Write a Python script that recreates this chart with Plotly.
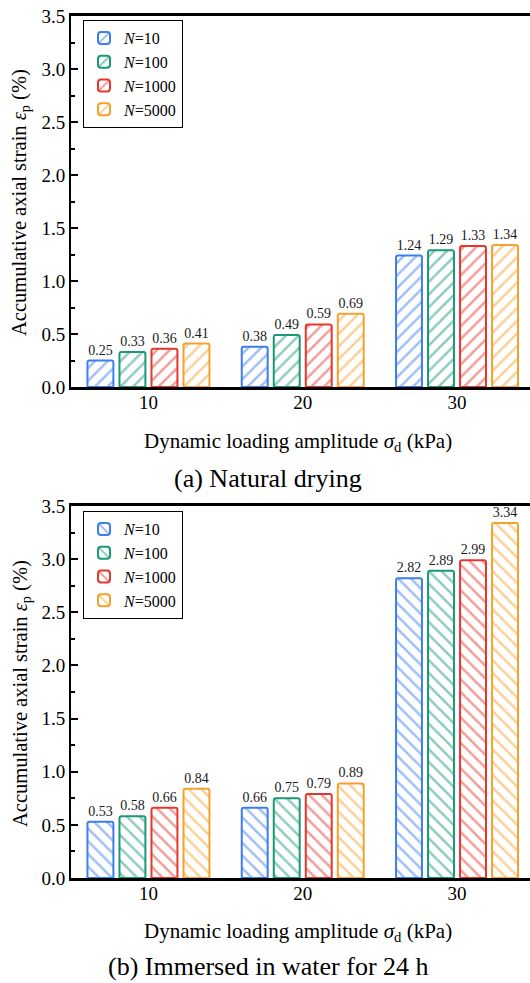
import plotly.graph_objects as go

# ---------------- data ----------------
categories = ["10", "20", "30"]
series_labels = ["<i>N</i>=10", "<i>N</i>=100", "<i>N</i>=1000", "<i>N</i>=5000"]

dry_n10 = [0.25, 0.38, 1.24]
dry_n100 = [0.33, 0.49, 1.29]
dry_n1000 = [0.36, 0.59, 1.33]
dry_n5000 = [0.41, 0.69, 1.34]

wet_n10 = [0.53, 0.66, 2.82]
wet_n100 = [0.58, 0.75, 2.89]
wet_n1000 = [0.66, 0.79, 2.99]
wet_n5000 = [0.84, 0.89, 3.34]

y_ticks = [0.0, 0.5, 1.0, 1.5, 2.0, 2.5, 3.0, 3.5]

colors = ["#3D7EEE", "#1B9877", "#E6372F", "#F5A12E"]
FONT = "Liberation Serif, Times New Roman, serif"

W, H = 530, 983

def px_x(p):
    return p / W

def px_y(p):
    return 1 - p / H

fig = go.Figure()

dry_sets = [dry_n10, dry_n100, dry_n1000, dry_n5000]
wet_sets = [wet_n10, wet_n100, wet_n1000, wet_n5000]

def add_series(sets, shape, xa, ya, leg):
    for i, vals in enumerate(sets):
        fig.add_trace(go.Bar(
            x=categories, y=vals, name=series_labels[i],
            xaxis=xa, yaxis=ya, legend=leg,
            marker=dict(color="white", cornerradius=2,
                        line=dict(color=colors[i], width=2),
                        pattern=dict(shape=shape, fgcolor=colors[i], bgcolor="white",
                                     size=9, solidity=0.28)),
            texttemplate="%{y:.2f}", textposition="outside",
            textfont=dict(family=FONT, size=14, color="#1a1a1a"),
            constraintext="none", cliponaxis=False,
        ))

add_series(dry_sets, "/", "x", "y", "legend")
add_series(wet_sets, "\\", "x2", "y2", "legend2")

x_range = [-0.502, 2.473]

def xaxis_cfg(anchor):
    return dict(
        type="category", domain=[px_x(71), 1.0], range=x_range, anchor=anchor,
        showline=True, linecolor="black", linewidth=2.5, mirror=True,
        ticks="", showgrid=False, zeroline=False, ticklabelstandoff=-4,
        automargin=False,
        tickfont=dict(family=FONT, size=19, color="black"),
    )

def yaxis_cfg(anchor, dom):
    return dict(
        domain=dom, range=[0, 3.5], anchor=anchor, automargin=False,
        tickvals=y_ticks, ticktext=[f"{v:.1f}" for v in y_ticks],
        showline=True, linecolor="black", linewidth=2, mirror=False,
        ticks="inside", ticklen=7, tickwidth=1.5, tickcolor="black",
        minor=dict(ticks="inside", ticklen=4, tickwidth=1.5, dtick=0.25,
                   tickcolor="black", showgrid=False),
        showgrid=False, zeroline=False,
        tickfont=dict(family=FONT, size=19, color="black"),
    )

legend_common = dict(
    xanchor="left", yanchor="top",
    bgcolor="white", bordercolor="black", borderwidth=1,
    font=dict(family=FONT, size=16, color="black"),
    itemwidth=30, tracegroupgap=0,
)

fig.update_layout(
    width=W, height=H,
    margin=dict(l=0, r=0, t=0, b=0, pad=0, autoexpand=False),
    paper_bgcolor="white", plot_bgcolor="white",
    barmode="group", bargap=0.17, bargroupgap=0.19,
    font=dict(family=FONT, color="black"),
    xaxis=xaxis_cfg("y"),
    yaxis=yaxis_cfg("x", [px_y(387), px_y(16)]),
    xaxis2=xaxis_cfg("y2"),
    yaxis2=yaxis_cfg("x2", [px_y(878), px_y(506)]),
    legend=dict(x=px_x(83), y=px_y(20), **legend_common),
    legend2=dict(x=px_x(83), y=px_y(511), **legend_common),
    showlegend=True,
)

ytitle = "Accumulative axial strain <i>ε</i><sub>p</sub> (%)"
xtitle = "Dynamic loading amplitude <i>σ</i><sub>d</sub> (kPa)"

annos = [
    dict(text=ytitle, x=px_x(21), y=px_y(203), textangle=-90, size=20.5),
    dict(text=ytitle, x=px_x(21), y=px_y(694), textangle=-90, size=20.5),
    dict(text=xtitle, x=px_x(298), y=px_y(442), textangle=0, size=21),
    dict(text=xtitle, x=px_x(298), y=px_y(932), textangle=0, size=21),
    dict(text="(a) Natural drying", x=px_x(268), y=px_y(478), textangle=0, size=26),
    dict(text="(b) Immersed in water for 24 h", x=px_x(268), y=px_y(966), textangle=0, size=26),
]
for a in annos:
    fig.add_annotation(xref="paper", yref="paper", showarrow=False,
                       xanchor="center", yanchor="middle",
                       text=a["text"], x=a["x"], y=a["y"], textangle=a["textangle"],
                       font=dict(family=FONT, size=a["size"], color="black"))

post = (
    "document.documentElement.style.margin='0';"
    "document.documentElement.style.padding='0';"
    "document.documentElement.style.overflow='hidden';"
    "document.body.style.margin='0';document.body.style.padding='0';"
    "document.body.style.overflow='hidden';"
    "var d=document.getElementsByClassName('plotly-graph-div')[0];"
    "d.style.position='fixed';d.style.top='0px';d.style.left='0px';"
)

fig.write_html("out.html", config={"displayModeBar": False}, post_script=post)
